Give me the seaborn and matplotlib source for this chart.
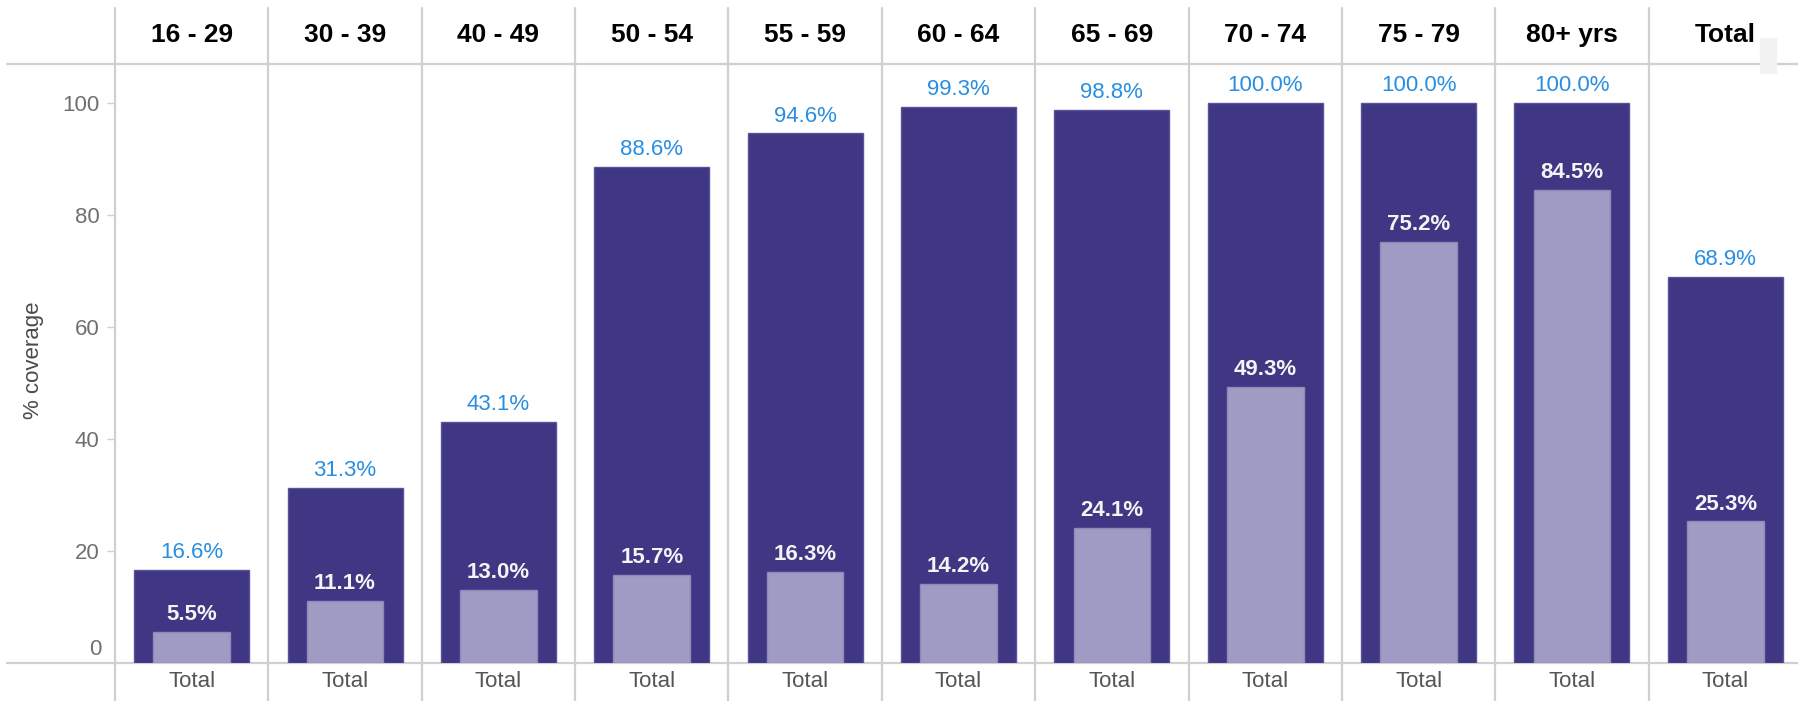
import matplotlib
matplotlib.use("Agg")
import matplotlib.pyplot as plt
import matplotlib.transforms as mtransforms
import numpy as np
import pandas as pd
import seaborn as sns

age_groups = ['16 - 29', '30 - 39', '40 - 49', '50 - 54', '55 - 59', '60 - 64',
              '65 - 69', '70 - 74', '75 - 79', '80+ yrs', 'Total']
first_dose = [16.6, 31.3, 43.1, 88.6, 94.6, 99.3, 98.8, 100.0, 100.0, 100.0, 68.9]
second_dose = [5.5, 11.1, 13.0, 15.7, 16.3, 14.2, 24.1, 49.3, 75.2, 84.5, 25.3]
x_labels = ['Total'] * len(age_groups)
y_ticks = [20, 40, 60, 80, 100]

dark = '#3f3684'
light = '#a09bc4'
blue = '#2a8ee0'
grid = '#d0d0d0'

sns.set_style('white')
plt.rcParams['font.family'] = ['Liberation Sans', 'DejaVu Sans']

df = pd.DataFrame({'group': age_groups, 'first': first_dose, 'second': second_dose})

fig = plt.figure(figsize=(17.98, 7.01), dpi=100)
ax = fig.add_axes([115 / 1798, 1 - 663 / 701, 1687 / 1798, 599 / 701])

sns.barplot(data=df, x='group', y='first', order=age_groups, color=dark,
            width=0.75, edgecolor='#5b5399', linewidth=1, saturation=1, ax=ax)
sns.barplot(data=df, x='group', y='second', order=age_groups, color=light,
            width=0.5, edgecolor='#8f89b8', linewidth=1, saturation=1, ax=ax)

ax.set_xlim(-0.5, 10.5)
ax.set_ylim(0, 107)
for s in ax.spines.values():
    s.set_visible(False)

# value labels
for i, (a, b) in enumerate(zip(first_dose, second_dose)):
    ax.annotate(f'{a:.1f}%', (i, a), xytext=(0, 12.5), textcoords='offset points',
                ha='center', va='center', color=blue, fontsize=16)
    ax.annotate(f'{b:.1f}%', (i, b), xytext=(0, 12.5), textcoords='offset points',
                ha='center', va='center', color='#f4f4f4', fontsize=16,
                fontweight='bold')

# axes ticks and labels
ax.set_yticks(y_ticks)
ax.set_yticklabels([str(t) for t in y_ticks])
ax.tick_params(axis='y', length=6, width=1, color=grid, pad=5,
               labelsize=16, labelcolor='#707070', left=True)
ax.annotate('0', (0, 0), xycoords=('axes fraction', 'data'), xytext=(-10, 9.5),
            textcoords='offset points', ha='right', va='center',
            fontsize=16, color='#707070')
ax.set_xticks(range(len(age_groups)))
ax.set_xticklabels(x_labels)
ax.tick_params(axis='x', length=0, pad=6, labelsize=16, labelcolor='#555555')
ax.set_xlabel('')
ax.set_ylabel('% coverage', fontsize=16, color='#4a4a4a')
ax.yaxis.set_label_coords(-0.042, 0.506)

# facet grid lines and headers
trans = mtransforms.blended_transform_factory(ax.transData, ax.transAxes)
for i in range(len(age_groups) + 1):
    ax.plot([i - 0.5, i - 0.5], [-0.065, 1.093], color=grid, lw=1.6,
            transform=trans, clip_on=False, zorder=0)
for i, g in enumerate(age_groups):
    ax.text(i, 1.048, g, transform=trans, ha='center', va='center',
            fontsize=19, fontweight='bold', color='black')
for yy in (0, 1):
    ax.plot([-0.064, 1.0], [yy, yy], color=grid, lw=1.6,
            transform=ax.transAxes, clip_on=False, zorder=0)

# scrollbar remnant in the top right corner
fig.patches.append(plt.Rectangle((1760 / 1798, 1 - 73 / 701), 16 / 1798, 35 / 701,
                                 transform=fig.transFigure, color='#f2f2f2',
                                 zorder=5))

fig.savefig('out.png', dpi=100)
